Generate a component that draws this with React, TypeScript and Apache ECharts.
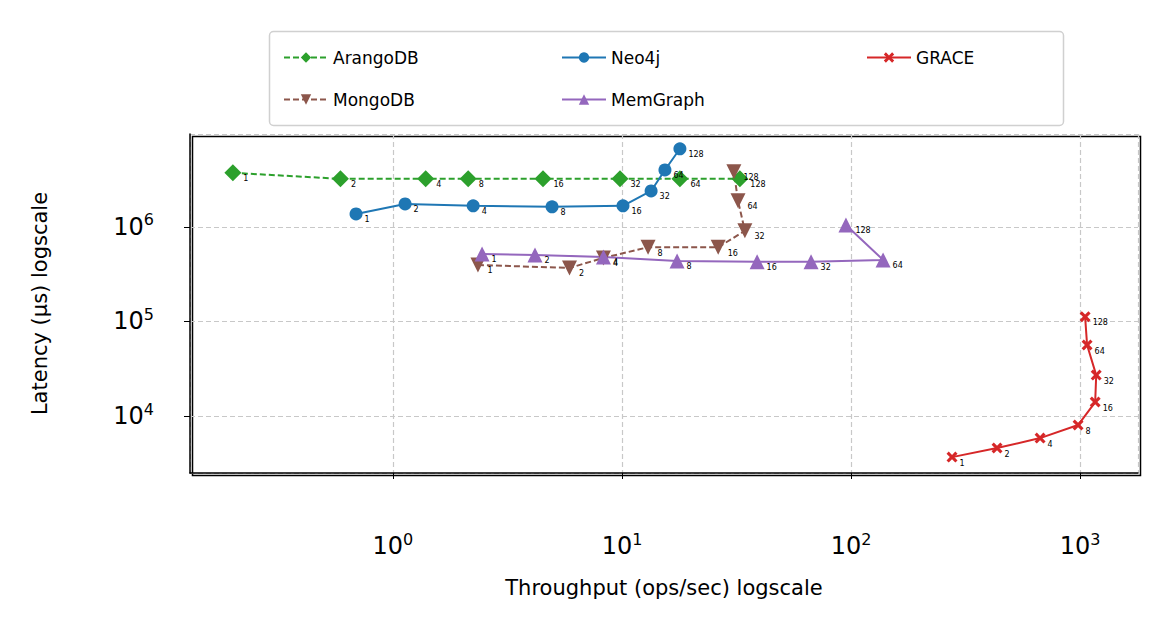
import { useEffect, useRef } from 'react';
import * as echarts from 'echarts';

const threads = [1, 2, 4, 8, 16, 32, 64, 128];

const arangoX = [0.2, 0.59, 1.39, 2.13, 4.52, 9.8, 17.9, 32.7];
const arangoY = [3.73e6, 3.22e6, 3.22e6, 3.22e6, 3.22e6, 3.22e6, 3.22e6, 3.22e6];

const mongoX = [2.35, 5.9, 8.3, 13, 26.3, 34.4, 32.1, 30.8];
const mongoY = [3.96e5, 3.68e5, 4.7e5, 6.1e5, 6.1e5, 9.1e5, 1.89e6, 3.82e6];

const neoX = [0.69, 1.13, 2.24, 4.95, 10.1, 13.4, 15.4, 17.9];
const neoY = [1.37e6, 1.75e6, 1.67e6, 1.63e6, 1.67e6, 2.4e6, 4.0e6, 6.7e6];

const memX = [2.45, 4.17, 8.3, 17.4, 38.9, 66.9, 138, 95];
const memY = [5.18e5, 5.06e5, 4.82e5, 4.37e5, 4.27e5, 4.27e5, 4.48e5, 1.05e6];

const graceX = [276, 434, 669, 980, 1164, 1176, 1073, 1052];
const graceY = [3680, 4590, 5850, 8030, 14070, 27100, 56400, 112000];

const powLabel = (v: number) => '10{s|' + Math.round(Math.log10(v)) + '}';

const xMark = 'path://M0,2 L2,0 L5,3 L8,0 L10,2 L7,5 L10,8 L8,10 L5,7 L2,10 L0,8 L3,5 Z';

function series(name: string, xs: number[], ys: number[], color: string, symbol: string, dashed: boolean, size: number, rotate = 0) {
  return {
    name,
    type: 'line',
    data: xs.map((x, i) => [x, ys[i], threads[i]]),
    symbol,
    symbolSize: size,
    symbolRotate: rotate,
    itemStyle: { color },
    lineStyle: { color, width: 2, type: dashed ? [6, 3] : 'solid' },
    label: {
      show: true,
      position: 'right',
      offset: [-3, 6],
      fontSize: 8,
      color: '#000',
      formatter: (p: any) => String(p.value[2]),
    },
  };
}

function legend(name: string, left: number, top: number) {
  return {
    data: [name], left, top, itemWidth: 44, itemHeight: 13,
    textStyle: { fontSize: 17, color: '#000' },
  };
}

export default function App() {
  const ref = useRef<HTMLDivElement>(null);

  useEffect(() => {
    if (!ref.current) return;
    const chart = echarts.init(ref.current, undefined, { renderer: 'svg' });
    const rich = { s: { fontSize: 16, verticalAlign: 'top', padding: [0, 0, 14, 0] } };
    const split = { show: true, lineStyle: { color: '#c8c8c8', type: [5, 3], width: 1.2 } };
    chart.setOption({
      animation: false,
      textStyle: { fontFamily: 'DejaVu Sans' },
      grid: { left: 182, right: 22, top: 126, bottom: 153 },
      legend: [
        legend('ArangoDB', 270, 36),
        legend('MongoDB', 270, 78),
        legend('Neo4j', 548, 36),
        legend('MemGraph', 548, 78),
        legend('GRACE', 853, 36),
      ],
      graphic: [
        {
          type: 'rect', left: 259, top: 21,
          shape: { width: 794, height: 94, r: 4 },
          style: { fill: 'none', stroke: '#d0d0d0', lineWidth: 1.5 },
        },
        {
          type: 'rect', left: 182, top: 126,
          shape: { width: 948, height: 339 },
          style: { fill: 'none', stroke: '#000', lineWidth: 1.5 },
        },
      ],
      xAxis: {
        type: 'log', min: 0.13, max: 1790,
        name: 'Throughput (ops/sec) logscale', nameLocation: 'middle', nameGap: 104,
        nameTextStyle: { fontSize: 21, color: '#000' },
        axisLine: { lineStyle: { color: '#000', width: 1.5 } },
        axisTick: { lineStyle: { color: '#000' }, length: 6 },
        axisLabel: {
          color: '#000', fontSize: 24, formatter: powLabel, rich,
          showMinLabel: false, showMaxLabel: false, margin: 58,
        },
        splitLine: split,
      },
      yAxis: {
        type: 'log', min: 2500, max: 9.6e6,
        name: 'Latency (µs) logscale', nameLocation: 'middle', nameGap: 140,
        nameTextStyle: { fontSize: 21, color: '#000' },
        axisLine: { show: true, lineStyle: { color: '#000', width: 1.5 } },
        axisTick: { show: true, lineStyle: { color: '#000' }, length: 6 },
        axisLabel: {
          color: '#000', fontSize: 24, formatter: powLabel, rich,
          showMinLabel: false, showMaxLabel: false, margin: 36,
        },
        splitLine: split,
      },
      series: [
        series('ArangoDB', arangoX, arangoY, '#2ca02c', 'diamond', true, 17),
        series('MongoDB', mongoX, mongoY, '#8c564b', 'triangle', true, 15, 180),
        series('Neo4j', neoX, neoY, '#1f77b4', 'circle', false, 13),
        series('MemGraph', memX, memY, '#9467bd', 'triangle', false, 15),
        series('GRACE', graceX, graceY, '#d62728', xMark, false, 11),
      ],
    });
    return () => chart.dispose();
  }, []);

  return <div ref={ref} style={{ width: 1152, height: 618 }} />;
}
